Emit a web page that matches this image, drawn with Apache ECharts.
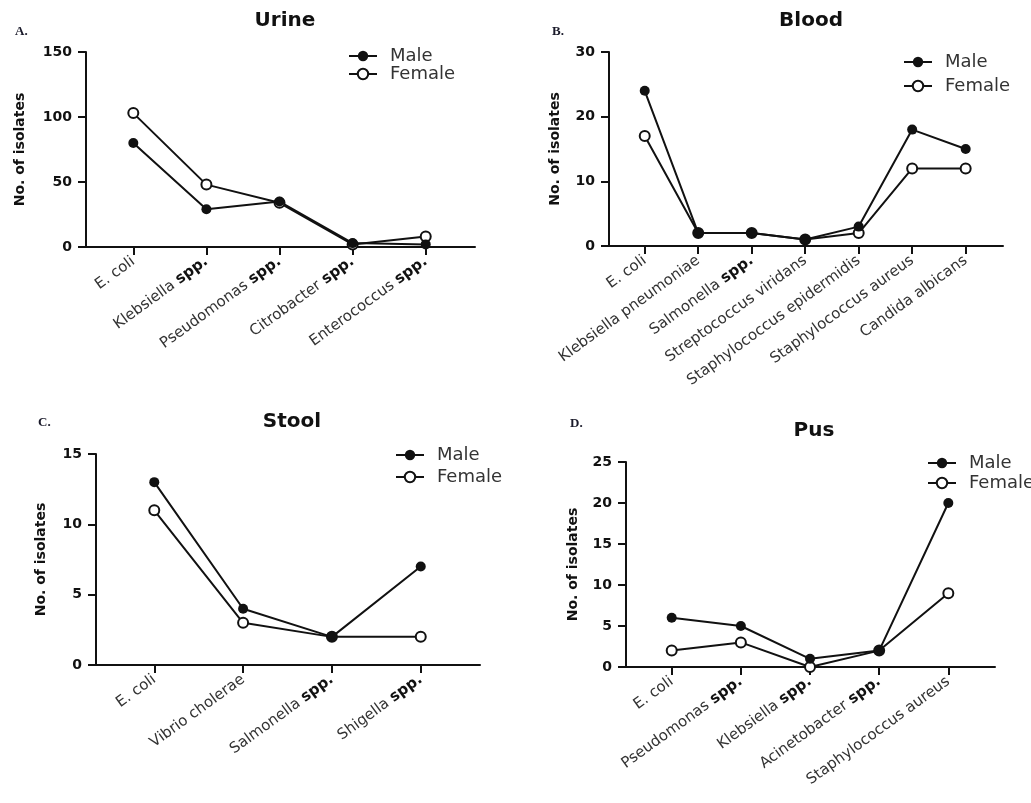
<!DOCTYPE html>
<html><head><meta charset="utf-8">
<script src="https://cdn.jsdelivr.net/npm/echarts@6/dist/echarts.min.js"></script>
<style>html,body{margin:0;padding:0;background:#fff}#c{width:1031px;height:803px}</style>
</head><body><div id="c"></div>
<script>
// ---------------- data ----------------
const urineCategories = ['E. coli', 'Klebsiella spp.', 'Pseudomonas spp.', 'Citrobacter spp.', 'Enterococcus spp.'];
const urineMale = [80, 29, 35, 3, 2];
const urineFemale = [103, 48, 34, 2, 8];
const urineTicks = [0, 50, 100, 150];

const bloodCategories = ['E. coli', 'Klebsiella pneumoniae', 'Salmonella spp.', 'Streptococcus viridans', 'Staphylococcus epidermidis', 'Staphylococcus aureus', 'Candida albicans'];
const bloodMale = [24, 2, 2, 1, 3, 18, 15];
const bloodFemale = [17, 2, 2, 1, 2, 12, 12];
const bloodTicks = [0, 10, 20, 30];

const stoolCategories = ['E. coli', 'Vibrio cholerae', 'Salmonella spp.', 'Shigella spp.'];
const stoolMale = [13, 4, 2, 7];
const stoolFemale = [11, 3, 2, 2];
const stoolTicks = [0, 5, 10, 15];

const pusCategories = ['E. coli', 'Pseudomonas spp.', 'Klebsiella spp.', 'Acinetobacter spp.', 'Staphylococcus aureus'];
const pusMale = [6, 5, 1, 2, 20];
const pusFemale = [2, 3, 0, 2, 9];
const pusTicks = [0, 5, 10, 15, 20, 25];

const seriesNames = ['Male', 'Female'];
const yAxisName = 'No. of isolates';

// ---------------- layout ----------------
const panels = [
  { title: 'Urine', letter: 'A.', cats: urineCategories, male: urineMale, female: urineFemale, ticks: urineTicks,
    grid: { left: 86, top: 52, width: 389, height: 195 }, xMin: -0.647, xMax: 4.674,
    titleX: 280, titleY: 6, letterX: 10, letterY: 20, legendX: 343, legendY: 42, legendGap: 0, nameGap: 59 },
  { title: 'Blood', letter: 'B.', cats: bloodCategories, male: bloodMale, female: bloodFemale, ticks: bloodTicks,
    grid: { left: 609, top: 52, width: 394, height: 194 }, xMin: -0.668, xMax: 6.698,
    titleX: 806, titleY: 6, letterX: 547, letterY: 20, legendX: 898, legendY: 48, legendGap: 6, nameGap: 47 },
  { title: 'Stool', letter: 'C.', cats: stoolCategories, male: stoolMale, female: stoolFemale, ticks: stoolTicks,
    grid: { left: 96, top: 454, width: 384, height: 211 }, xMin: -0.656, xMax: 3.667,
    titleX: 287, titleY: 407, letterX: 33, letterY: 411, legendX: 390, legendY: 441, legendGap: 4, nameGap: 48 },
  { title: 'Pus', letter: 'D.', cats: pusCategories, male: pusMale, female: pusFemale, ticks: pusTicks,
    grid: { left: 626, top: 462, width: 369, height: 205 }, xMin: -0.661, xMax: 4.675,
    titleX: 809, titleY: 416, letterX: 565, letterY: 412, legendX: 922, legendY: 449, legendGap: 2, nameGap: 46 }
];

const FONT = 'DejaVu Sans';
const option = {
  backgroundColor: '#fff',
  animation: false,
  title: [], grid: [], xAxis: [], yAxis: [], legend: [], series: []
};

function fmtLabel(cats) {
  return function (v) {
    const name = cats[Math.round(v)];
    if (name === undefined) return '';
    if (name.endsWith(' spp.')) return '{n|' + name.slice(0, -5) + ' }{b|spp.}';
    return '{n|' + name + '}';
  };
}

panels.forEach(function (p, i) {
  option.title.push({
    text: p.title, left: p.titleX, top: p.titleY, textAlign: 'center',
    textStyle: { fontFamily: FONT, fontWeight: 'bold', fontSize: 20, color: '#111' }
  });
  option.title.push({
    text: p.letter, left: p.letterX, top: p.letterY,
    textStyle: { fontFamily: 'Liberation Serif', fontWeight: 'bold', fontSize: 13, color: '#1a1a2a' }
  });
  option.grid.push(Object.assign({ containLabel: false }, p.grid));
  const idx = p.cats.map(function (_, k) { return k; });
  option.xAxis.push({
    type: 'value', gridIndex: i, min: p.xMin, max: p.xMax,
    splitLine: { show: false },
    axisLine: { show: true, onZero: false, lineStyle: { color: '#111', width: 2 } },
    axisTick: { show: true, customValues: idx, length: 8, lineStyle: { color: '#111', width: 2 } },
    axisLabel: {
      customValues: idx, rotate: 36, margin: 13, formatter: fmtLabel(p.cats),
      rich: {
        n: { fontFamily: FONT, fontSize: 15, color: '#333' },
        b: { fontFamily: FONT, fontSize: 15, fontWeight: 'bold', color: '#111' }
      }
    }
  });
  const tk = p.ticks;
  option.yAxis.push({
    type: 'value', gridIndex: i, min: tk[0], max: tk[tk.length - 1], interval: tk[1] - tk[0],
    name: yAxisName, nameLocation: 'middle', nameRotate: 90, nameGap: p.nameGap,
    nameTextStyle: { fontFamily: FONT, fontWeight: 'bold', fontSize: 14, color: '#111' },
    splitLine: { show: false },
    axisLine: { show: true, onZero: false, lineStyle: { color: '#111', width: 2 } },
    axisTick: { show: true, length: 8, lineStyle: { color: '#111', width: 2 } },
    axisLabel: { margin: 14, fontFamily: FONT, fontWeight: 'bold', fontSize: 14, color: '#111' }
  });
  option.legend.push({
    data: seriesNames, orient: 'vertical', left: p.legendX, top: p.legendY,
    itemWidth: 28, itemHeight: 13, itemGap: p.legendGap,
    textStyle: { fontFamily: FONT, fontSize: 18, color: '#333', lineHeight: 18, padding: [0, 0, 0, 8] }
  });
  option.series.push({
    name: 'Female', type: 'line', xAxisIndex: i, yAxisIndex: i,
    data: p.female.map(function (v, k) { return [k, v]; }),
    symbol: 'emptyCircle', symbolSize: 10,
    lineStyle: { color: '#111', width: 2 },
    itemStyle: { color: '#111', borderColor: '#111', borderWidth: 2 }
  });
  option.series.push({
    name: 'Male', type: 'line', xAxisIndex: i, yAxisIndex: i,
    data: p.male.map(function (v, k) { return [k, v]; }),
    symbol: 'circle', symbolSize: 10,
    lineStyle: { color: '#111', width: 2 },
    itemStyle: { color: '#111' }
  });
});

const chart = echarts.init(document.getElementById('c'), null, { renderer: 'canvas' });
chart.setOption(option);
</script>
</body></html>
